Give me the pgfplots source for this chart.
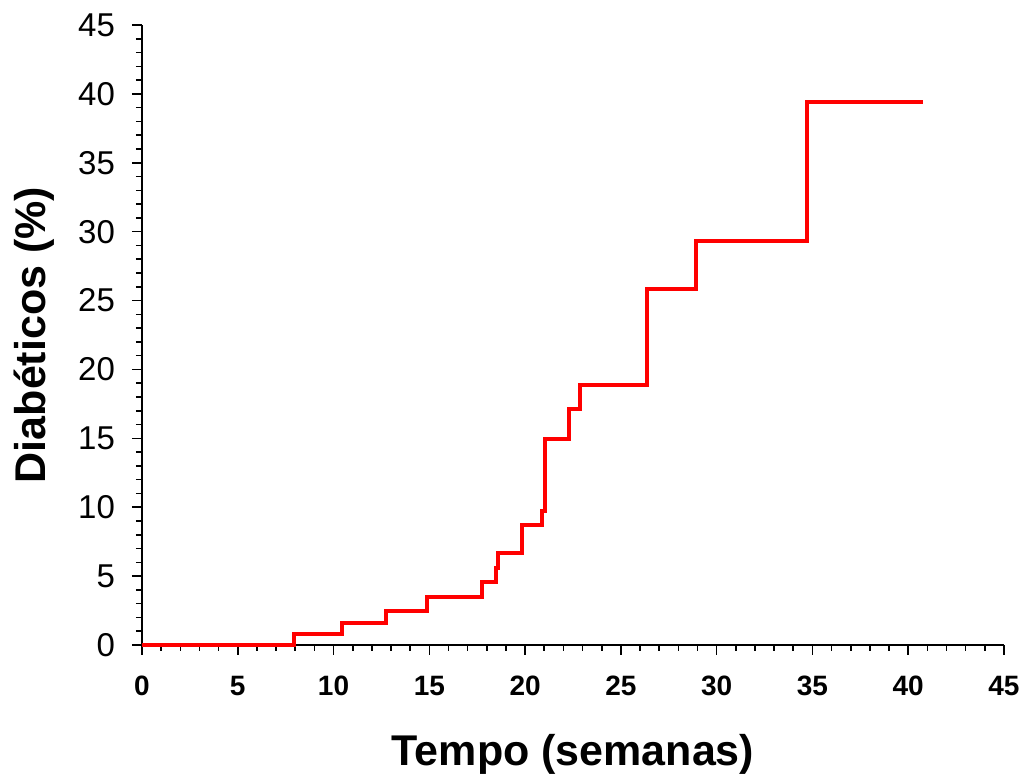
\documentclass[border=0pt]{standalone}
\usepackage{pgfplots}
\pgfplotsset{compat=1.18}
\usepackage{fontspec}
\setmainfont{Liberation Sans}
\begin{document}
\begin{tikzpicture}
\useasboundingbox (-71pt,-64.5pt) rectangle (442pt,322.5pt);
\begin{axis}[
  at={(0,0)}, anchor=south west,
  scale only axis,
  width=431pt, height=310pt,
  xmin=0, xmax=45, ymin=0, ymax=45,
  xtick distance=5, ytick distance=5,
  minor tick num=4,
  axis x line*=bottom, axis y line*=left,
  axis line style={line width=1pt, -},
  tick style={black, line width=0.8pt},
  tick align=outside,
  major tick length=5pt, minor tick length=3pt,
  /pgf/number format/assume math mode=true,
  x tick label style={font=\fontsize{14}{16}\selectfont\bfseries, yshift=-7pt},
  y tick label style={font=\fontsize{16.5}{18}\selectfont, xshift=-5pt},
  xlabel={Tempo (semanas)},
  ylabel={Diabéticos (\%)},
  label style={font=\fontsize{21.5}{24}\selectfont\bfseries},
  xlabel style={yshift=-12.5pt},
  ylabel style={yshift=5pt},
  clip=false,
]
\addplot[const plot mark left, red, line width=2pt, no marks] coordinates {
(0,0) (7.93,0.80) (10.45,1.57) (12.73,2.49) (14.86,3.50) (17.73,4.55)
(18.48,5.57) (18.60,6.65) (19.85,8.71) (20.89,9.75) (21.03,14.95)
(22.29,17.13) (22.86,18.87) (26.34,25.81) (28.90,29.34) (34.74,39.43)
(40.75,39.43)
};
\end{axis}
\end{tikzpicture}
\end{document}
